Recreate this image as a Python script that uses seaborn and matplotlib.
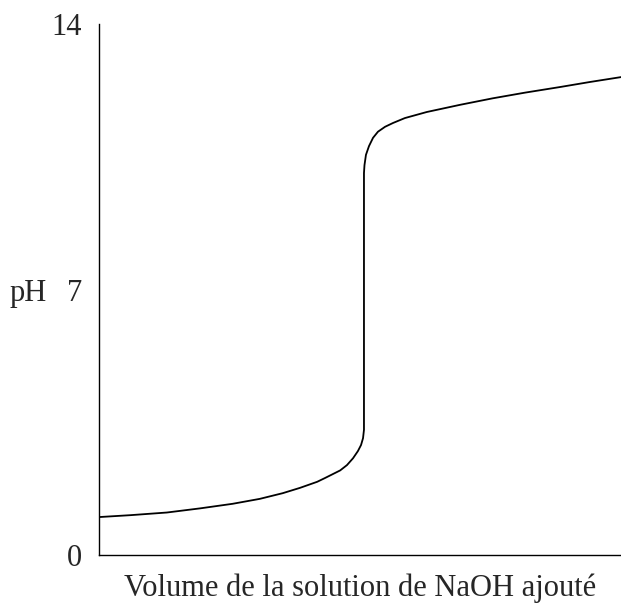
import matplotlib
matplotlib.use("Agg")
import matplotlib.pyplot as plt
import seaborn as sns
import pandas as pd

# Values (volume in arbitrary mL scale, pH)
volume = [0.0, 3.0, 6.5, 9.7, 12.8, 15.4, 17.6, 19.25, 20.9, 21.65, 23.1,
          23.75, 24.33, 24.8, 25.1, 25.29, 25.38,
          25.38, 25.43, 25.57, 25.86, 26.25, 26.72, 27.4, 28.16, 29.3,
          31.4, 34.6, 37.7, 40.8, 44.2, 47.0, 50.0]
ph = [1.00, 1.05, 1.12, 1.23, 1.35, 1.48, 1.63, 1.77, 1.93, 2.03, 2.23,
      2.37, 2.55, 2.74, 2.90, 3.08, 3.30,
      10.07, 10.28, 10.55, 10.78, 11.00, 11.16, 11.29, 11.39, 11.52,
      11.68, 11.87, 12.04, 12.19, 12.34, 12.47, 12.60]
ytick_values = [0, 7, 14]
ytick_labels = ["0", "7", "14"]
x_label = "Volume de la solution de NaOH ajouté"
y_label = "pH"

sns.set_style("white")
plt.rcParams["font.family"] = ["Liberation Serif", "DejaVu Serif"]

df = pd.DataFrame({"volume": volume, "ph": ph})

fig = plt.figure(figsize=(6.21, 6.04), dpi=100)
ax = fig.add_axes([99 / 621, 49 / 604, 522 / 621, 531 / 604])

sns.lineplot(data=df, x="volume", y="ph", sort=False, estimator=None,
             color="black", linewidth=1.3, ax=ax)

ax.set_xlim(0, 50)
ax.set_ylim(0, 14)
ax.set_xticks([])
ax.set_yticks(ytick_values)
ax.set_yticklabels(ytick_labels, fontsize=22)
ax.tick_params(axis="y", length=0, pad=12)

for side in ["top", "right"]:
    ax.spines[side].set_visible(False)
for side in ["left", "bottom"]:
    ax.spines[side].set_color("black")
    ax.spines[side].set_linewidth(1.0)

ax.set_xlabel(x_label, fontsize=22, labelpad=13)
ax.set_ylabel(y_label, fontsize=22, rotation=0, ha="left", va="center")
ax.yaxis.set_label_coords(-0.172, 0.493)

fig.savefig("out.png", dpi=100)
